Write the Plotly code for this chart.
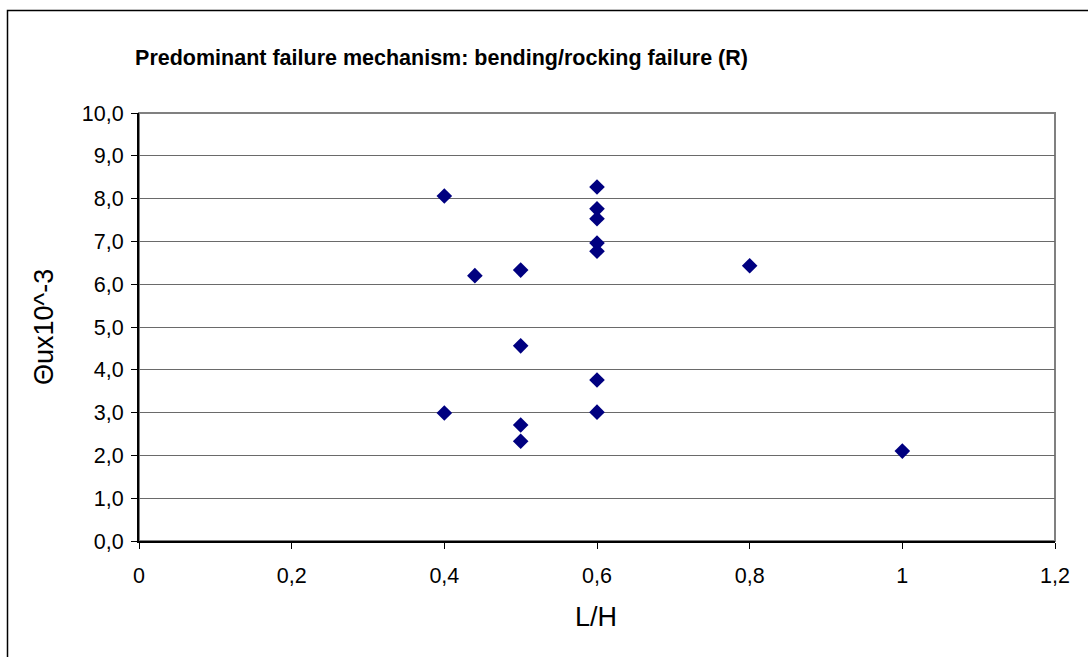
import plotly.graph_objects as go

# Data
lh = [0.4, 0.4, 0.44, 0.5, 0.5, 0.5, 0.5, 0.6, 0.6, 0.6, 0.6, 0.6, 0.6, 0.6, 0.8, 1.0]
theta = [8.06, 2.99, 6.20, 6.33, 4.56, 2.71, 2.33, 8.27, 7.76, 7.53, 6.96, 6.77, 3.76, 3.01, 6.43, 2.10]

x_ticks = [0, 0.2, 0.4, 0.6, 0.8, 1.0, 1.2]
x_ticktext = ["0", "0,2", "0,4", "0,6", "0,8", "1", "1,2"]
y_ticks = [0, 1, 2, 3, 4, 5, 6, 7, 8, 9, 10]
y_ticktext = ["0,0", "1,0", "2,0", "3,0", "4,0", "5,0", "6,0", "7,0", "8,0", "9,0", "10,0"]

FONT = "Arial, Liberation Sans, sans-serif"

fig = go.Figure()
fig.add_trace(go.Scatter(
    x=lh, y=theta, mode="markers",
    marker=dict(symbol="diamond", size=12, color="#000080",
                line=dict(width=0)),
    showlegend=False, hoverinfo="x+y",
))

W, H = 1088, 657
L, R, T, B = 139, 33, 113, 116
pw, ph = W - L - R, H - T - B

def px(xp):
    return (xp - L) / pw

def py(yp):
    return (H - B - yp) / ph

fig.update_layout(
    width=W, height=H,
    margin=dict(l=L, r=R, t=T, b=B, pad=0),
    paper_bgcolor="white", plot_bgcolor="white",
    font=dict(family=FONT, color="black"),
    title=dict(text="<b>Predominant failure mechanism: bending/rocking failure (R)</b>",
               font=dict(family=FONT, size=21.5, color="black"),
               x=px(441.5), xref="paper", xanchor="center",
               y=1 - 57 / H, yref="container", yanchor="middle"),
    xaxis=dict(range=[0, 1.2], tickvals=x_ticks, ticktext=x_ticktext,
               showgrid=False, zeroline=False,
               showline=True, linecolor="black", linewidth=2,
               ticks="outside", ticklen=6, tickcolor="black", tickwidth=1,
               tickfont=dict(family=FONT, size=21.5, color="black"),
               ticklabelstandoff=8, fixedrange=True),
    yaxis=dict(range=[0, 10], tickvals=y_ticks, ticktext=y_ticktext,
               showgrid=True, gridcolor="#6a6a6a", gridwidth=1,
               zeroline=False,
               showline=True, linecolor="black", linewidth=2,
               ticks="outside", ticklen=6, tickcolor="black", tickwidth=1,
               tickfont=dict(family=FONT, size=21.5, color="black"),
               ticklabelstandoff=3, fixedrange=True),
    shapes=[
        # plot area border (gray)
        dict(type="rect", xref="paper", yref="paper", x0=0, x1=1, y0=0, y1=1,
             line=dict(color="#808080", width=2), layer="below"),
        # outer chart frame
        dict(type="rect", xref="paper", yref="paper",
             x0=px(7.5), x1=px(1100), y0=py(670), y1=py(10.5),
             line=dict(color="black", width=1.5), layer="below"),
    ],
    annotations=[
        dict(text="L/H", xref="paper", yref="paper", x=px(596), y=py(617),
             xanchor="center", yanchor="middle", showarrow=False,
             font=dict(family=FONT, size=27, color="black")),
        dict(text="\u0398ux10^-3", xref="paper", yref="paper", x=px(44), y=py(327),
             xanchor="center", yanchor="middle", showarrow=False, textangle=-90,
             font=dict(family=FONT, size=27, color="black")),
    ],
)

fig.write_html("out.html")
